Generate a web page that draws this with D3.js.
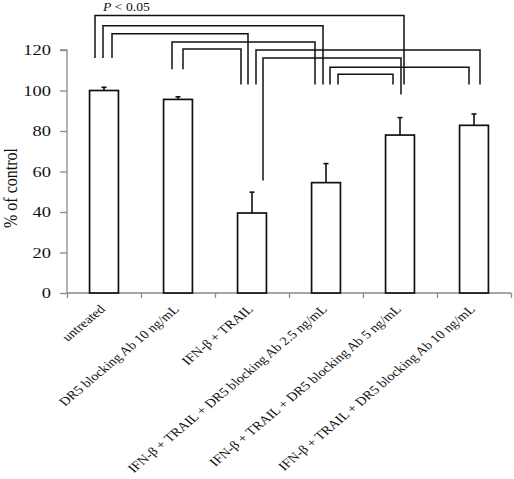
<!DOCTYPE html>
<html lang="en">
<head>
<meta charset="utf-8">
<style>
  body { margin: 0; background: #fff; }
  svg text { font-family: "Liberation Serif", "Times New Roman", serif; fill: #111; }
</style>
</head>
<body>
<script src="https://cdn.jsdelivr.net/npm/d3@7"></script>
<div id="vis1"></div>
<script>

// data
var groups = ["untreated",
              "DR5 blocking Ab 10 ng/mL",
              "IFN-β + TRAIL",
              "IFN-β + TRAIL + DR5 blocking Ab 2.5 ng/mL",
              "IFN-β + TRAIL + DR5 blocking Ab 5 ng/mL",
              "IFN-β + TRAIL + DR5 blocking Ab 10 ng/mL"];
var means = [100, 95.6, 39.5, 54.5, 78, 82.8];
var sems = [1.6, 1.3, 10.3, 9.4, 8.6, 5.6];
var yTicks = [0, 20, 40, 60, 80, 100, 120];
// significant comparisons (group index pairs)
var pairs = [[0, 4], [0, 3], [0, 2], [1, 3], [1, 2], [2, 5], [2, 4], [3, 5], [3, 4]];

// how each bracket is drawn: height, foot ends (value units), x nudges (px)
var bracketLayout = [
  {top: 137,   foot1: 116,   foot2: 103, dx1: -9, dx2: 4},
  {top: 132,   foot1: 116,   foot2: 103, dx1: -1, dx2: -3},
  {top: 128,   foot1: 116,   foot2: 103, dx1: 8,  dx2: -4},
  {top: 124,   foot1: 110.5, foot2: 103, dx1: -6, dx2: -11},
  {top: 120.5, foot1: 110.5, foot2: 103, dx1: 5,  dx2: -11},
  {top: 120,   foot1: 103,   foot2: 103, dx1: 4,  dx2: 6},
  {top: 116,   foot1: 55.5,  foot2: 98,  dx1: 11, dx2: 1},
  {top: 111.5, foot1: 103,   foot2: 103, dx1: 4,  dx2: -5},
  {top: 108,   foot1: 103,   foot2: 103, dx1: 12, dx2: -7}
];

var width = 514, height = 479;
var plot = {left: 67, right: 511, top: 50, bottom: 293};
// the original figure is a little stretched sideways, text too
var stretch = 1.19;

var svg = d3.select("#vis1").append("svg")
    .attr("width", width)
    .attr("height", height);

svg.append("rect").attr("width", width).attr("height", height).attr("fill", "#fff");

var x = d3.scaleBand()
    .domain(groups)
    .range([plot.left, plot.right])
    .paddingInner(0.61)
    .paddingOuter(0.305);

var xEdge = d3.scaleLinear().domain([0, groups.length]).range([plot.left, plot.right]);

var y = d3.scaleLinear().domain([0, 120]).range([plot.bottom, plot.top]);

function cx(i) { return x(groups[i]) + x.bandwidth() / 2; }

// y axis
var yAxis = svg.append("g")
    .attr("transform", `translate(${plot.left},0)`)
    .call(d3.axisLeft(y).tickValues(yTicks).tickSize(7).tickPadding(9));
yAxis.selectAll("path, line").attr("stroke", "#8a8a8a").attr("stroke-width", 1.3);
yAxis.select(".domain").attr("d", `M-7,${y(120)}H0V${y(0)}`);
yAxis.selectAll("text")
    .attr("font-size", "15.5px")
    .attr("fill", "#111")
    .attr("transform", function() {
      var tx = +this.getAttribute("x");
      return `translate(${tx},0) scale(${stretch},1)`;
    })
    .attr("x", 0);

// x axis, ticks between the groups
var xAxis = svg.append("g")
    .attr("transform", `translate(0,${plot.bottom})`)
    .call(d3.axisBottom(xEdge).tickValues(d3.range(groups.length + 1)).tickSize(5).tickFormat(""));
xAxis.selectAll("path, line").attr("stroke", "#8a8a8a").attr("stroke-width", 1.3);
xAxis.select(".domain").attr("d", `M${plot.left},0H${plot.right}`);

// error bars (upper only)
var err = svg.append("g").attr("stroke", "#111").attr("stroke-width", 1.6);
groups.forEach(function(g, i) {
  err.append("line")
     .attr("x1", cx(i)).attr("x2", cx(i))
     .attr("y1", y(means[i])).attr("y2", y(means[i] + sems[i]));
  err.append("line")
     .attr("x1", cx(i) - 2.5).attr("x2", cx(i) + 2.5)
     .attr("y1", y(means[i] + sems[i])).attr("y2", y(means[i] + sems[i]));
});

// bars
svg.append("g")
   .selectAll("rect")
   .data(groups)
   .enter()
   .append("rect")
   .attr("x", function(d) { return x(d); })
   .attr("y", function(d, i) { return y(means[i]); })
   .attr("width", x.bandwidth())
   .attr("height", function(d, i) { return y(0) - y(means[i]); })
   .attr("fill", "#fff")
   .attr("stroke", "#111")
   .attr("stroke-width", 1.7);

// significance brackets
svg.append("g")
   .selectAll("path")
   .data(pairs)
   .enter()
   .append("path")
   .attr("fill", "none")
   .attr("stroke", "#111")
   .attr("stroke-width", 1.5)
   .attr("d", function(p, k) {
     var b = bracketLayout[k];
     var x1 = cx(p[0]) + b.dx1, x2 = cx(p[1]) + b.dx2;
     return `M${x1},${y(b.foot1)}V${y(b.top)}H${x2}V${y(b.foot2)}`;
   });

var ptext = svg.append("text")
   .attr("transform", `translate(103,10.5) scale(${stretch},1)`)
   .attr("font-size", "11.5px");
ptext.append("tspan").attr("font-style", "italic").text("P");
ptext.append("tspan").text(" < 0.05");

// category labels
svg.append("g")
   .selectAll("text")
   .data(groups)
   .enter()
   .append("text")
   .attr("transform", function(d, i) {
     return `translate(${cx(i) + 2},${plot.bottom + 17}) scale(${stretch},1) rotate(-45)`;
   })
   .attr("text-anchor", "end")
   .attr("font-size", "12.2px")
   .text(function(d) { return d; });

// y label
svg.append("text")
   .attr("transform", `translate(17,188) scale(${stretch},1) rotate(-90)`)
   .attr("text-anchor", "middle")
   .attr("font-size", "16px")
   .text("% of control");

</script>
</body>
</html>
